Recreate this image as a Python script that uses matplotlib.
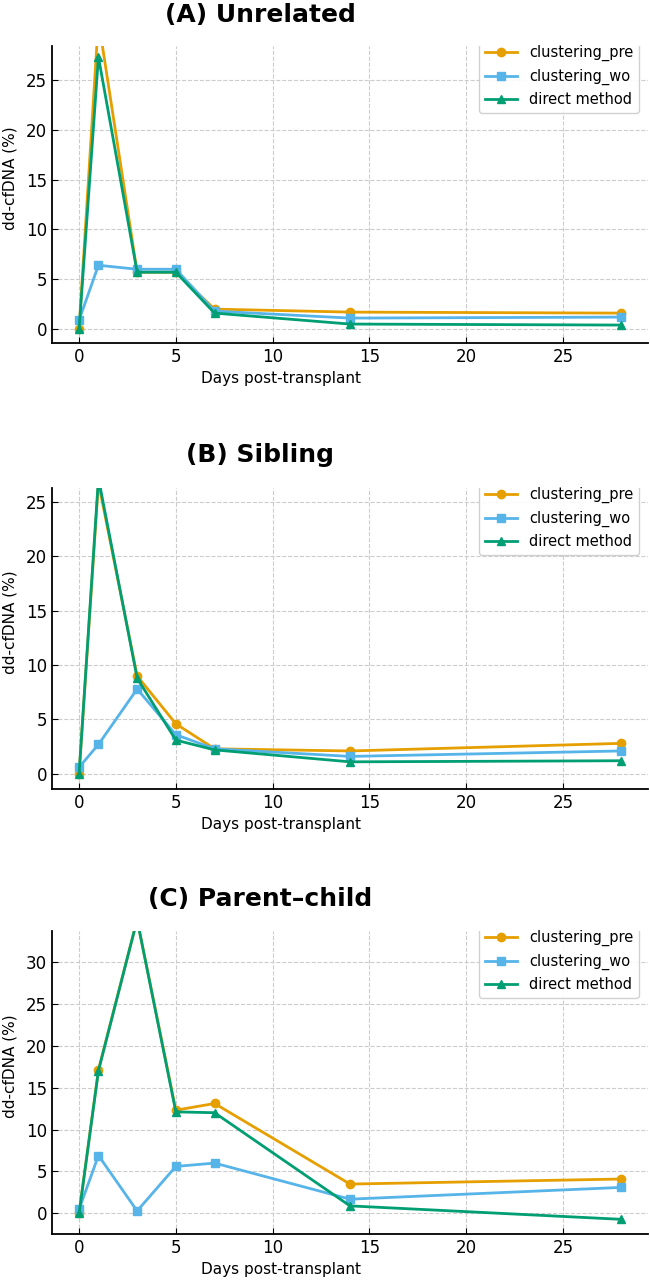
import numpy as np
import matplotlib.pyplot as plt

days = [0, 1, 3, 5, 7, 14, 28]

# (A) Unrelated
a_pre = [0.0, 31.0, 5.7, 5.7, 2.0, 1.7, 1.6]
a_wo = [0.9, 6.4, 6.0, 6.0, 1.8, 1.1, 1.2]
a_direct = [0.0, 27.3, 5.7, 5.7, 1.6, 0.5, 0.4]

# (B) Sibling
b_pre = [0.0, 26.8, 9.0, 4.6, 2.3, 2.1, 2.8]
b_wo = [0.6, 2.7, 7.8, 3.6, 2.3, 1.6, 2.1]
b_direct = [0.0, 27.2, 8.8, 3.1, 2.2, 1.1, 1.2]

# (C) Parent-child
c_pre = [0.0, 17.1, 35.0, 12.3, 13.1, 3.5, 4.1]
c_wo = [0.5, 6.9, 0.3, 5.6, 6.0, 1.7, 3.1]
c_direct = [0.0, 17.0, 35.0, 12.1, 12.0, 0.9, -0.7]

titles = ["(A) Unrelated", "(B) Sibling", "(C) Parent\u2013child"]
ylims = [(-1.4, 28.4), (-1.4, 26.3), (-2.45, 33.65)]
series = [(a_pre, a_wo, a_direct), (b_pre, b_wo, b_direct), (c_pre, c_wo, c_direct)]
names = ["clustering_pre", "clustering_wo", "direct method"]
colors = ["#E69F00", "#56B4E9", "#009E73"]
markers = ["o", "s", "^"]

# posiciones de los ejes en pixeles (top, bottom)
W, H = 650, 1281
boxes = [(46, 343), (488, 789), (931, 1234)]
title_y = [15, 455, 899]

fig = plt.figure(figsize=(W / 100, H / 100), dpi=100)

for k in range(3):
    top, bot = boxes[k]
    hpx = bot - top
    ax = fig.add_axes([52 / W, 1 - bot / H, 596 / W, hpx / H])
    for vals, name, c, m in zip(series[k], names, colors, markers):
        ax.plot(days, vals, color=c, marker=m, lw=2.0, ms=6, label=name)
    ax.set_xlim(-1.4, 29.4)
    ax.set_ylim(*ylims[k])
    ax.set_xticks([0, 5, 10, 15, 20, 25])
    ax.grid(True, ls="--", color="#cccccc", lw=0.8)
    ax.set_axisbelow(True)
    for s in ["top", "right"]:
        ax.spines[s].set_visible(False)
    ax.spines["left"].set_linewidth(1.3)
    ax.spines["bottom"].set_linewidth(1.3)
    ax.tick_params(direction="in", length=4, labelsize=12)
    ax.set_xlabel("Days post-transplant", fontsize=11)
    ax.set_ylabel("dd-cfDNA (%)", fontsize=11)
    ax.xaxis.set_label_coords(0.384, -28 / hpx)
    ax.yaxis.set_label_coords(-34 / 596, 0.555)
    leg = ax.legend(loc="upper right", bbox_to_anchor=(0.997, 1.0 + 14 / hpx), fontsize=10.5,
                    framealpha=0.9, edgecolor="#cccccc", handlelength=2.2)
    leg.legendPatch.set_clip_box(ax.bbox)
    fig.text(260 / W, 1 - title_y[k] / H, titles[k], fontsize=18, fontweight="bold",
             ha="center", va="center")

fig.savefig("out.png", dpi=100)
